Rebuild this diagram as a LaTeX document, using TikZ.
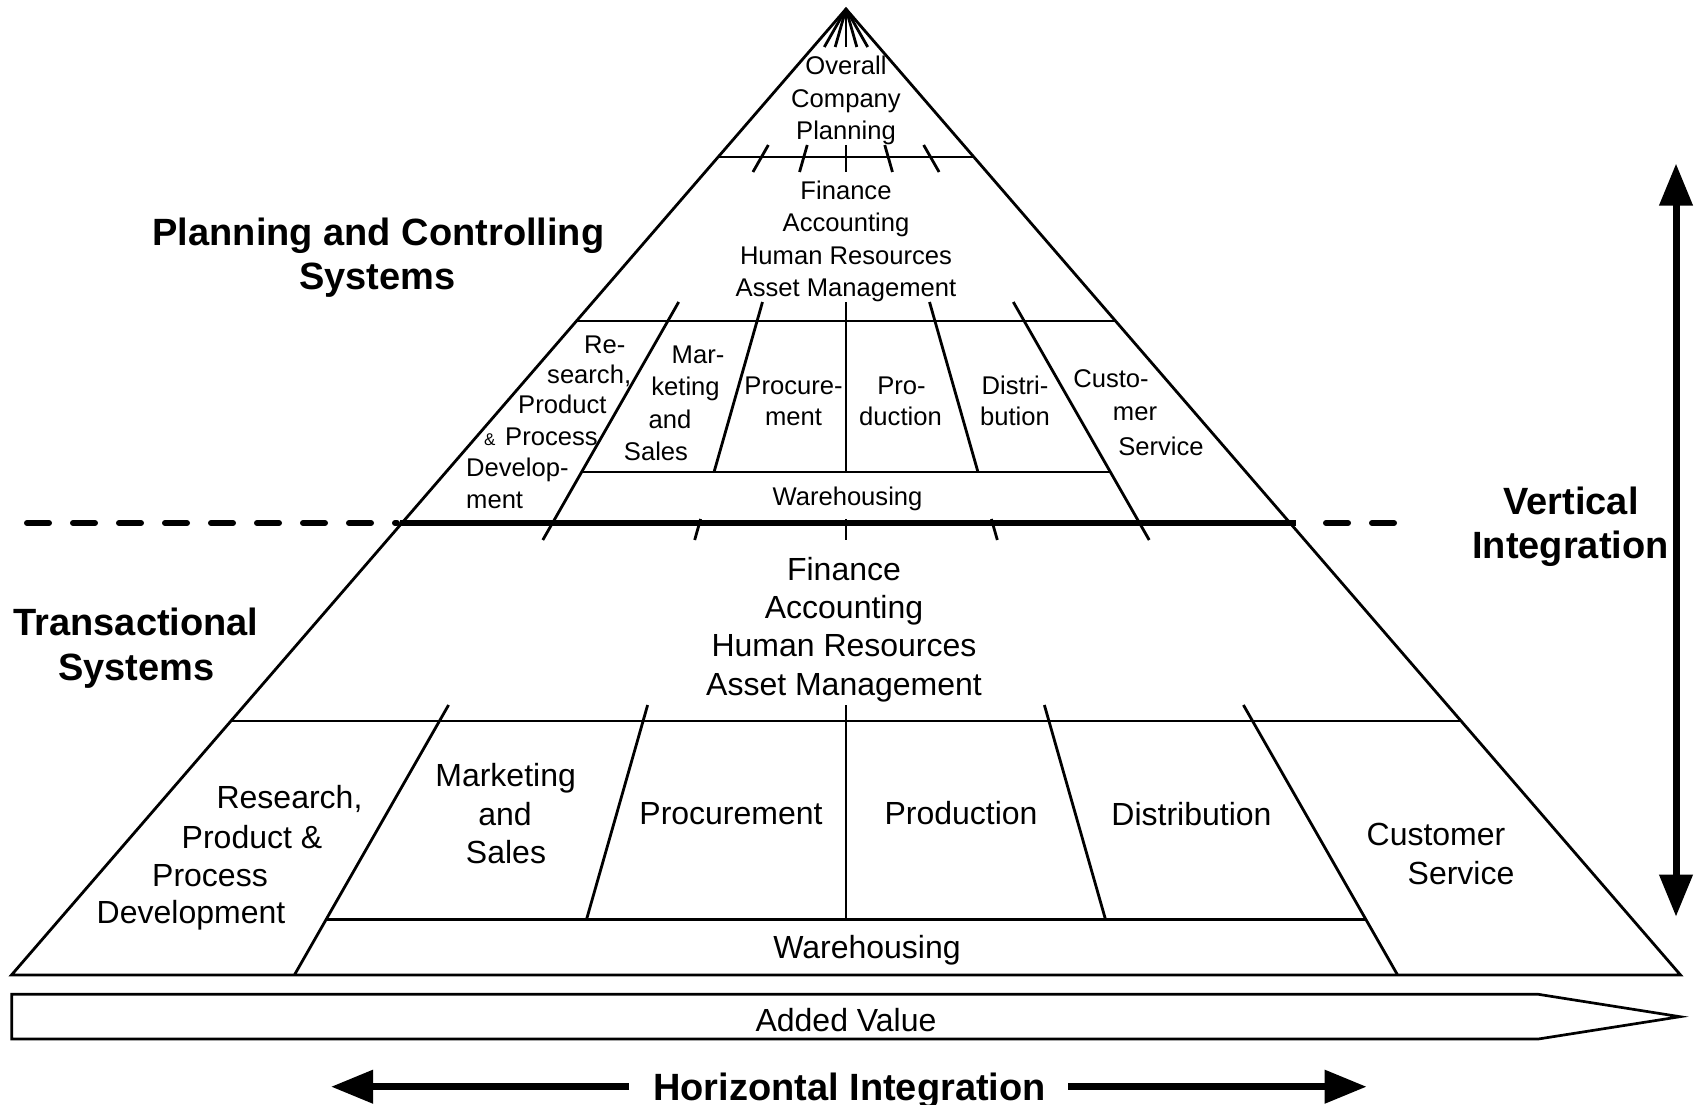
\documentclass[tikz,border=0pt]{standalone}
\usepackage{fontspec}
\setmainfont{Liberation Sans}
\usetikzlibrary{arrows.meta,calc}
\begin{document}
\begin{tikzpicture}[x=1pt,y=-1pt,
  ln/.style={line width=2.8pt},
  thick line/.style={line width=6pt},
  sm/.style={inner sep=0pt, anchor=base, font=\fontsize{25.6}{30}\selectfont},
  lg/.style={inner sep=0pt, anchor=base, font=\fontsize{32}{38}\selectfont},
  tt/.style={inner sep=0pt, anchor=base, font=\fontsize{38}{44}\selectfont\bfseries},
  bigarrow/.style={line width=7pt, -{Triangle[length=42pt,width=32pt]}}
]
\useasboundingbox (0,0) rectangle (1697,1105);

% ---------- pyramid outline ----------
\coordinate (apex) at (846,9);
\coordinate (bl) at (11.5,975);
\coordinate (br) at (1680.5,975);
\draw[ln, line join=miter] (bl) -- (apex) -- (br) -- cycle;

% ---------- horizontal tier lines ----------
\draw[ln] (718.1,157) -- (973.9,157);
\draw[ln] (576.5,321) -- (1115.5,321);
\draw[ln] (581.6,472) -- (1110.4,472);
\draw[thick line] (400,523) -- (1296,523);
\draw[ln] (230.9,721) -- (1461.1,721);
\draw[ln] (326.2,919.3) -- (1365.8,919.3);

% dashed separation line
\draw[thick line, line cap=round, dash pattern=on 22pt off 24pt] (27,523) -- (397,523);
\draw[thick line, line cap=round, dash pattern=on 22pt off 24pt] (1326,523) -- (1396,523);

% ---------- dividers (rays from the apex) ----------
\foreach \s in {-0.571,-0.285,0,0.285,0.571} {
  \draw[ln] (apex) -- ({846+\s*38},47);
  \draw[ln] ({846+\s*136},145) -- ({846+\s*163},172);
}
\foreach \s/\e in {-0.571/540,-0.285/472,0/472,0.285/472,0.571/540}
  \draw[ln] ({846+\s*293},302) -- ({846+\s*(\e-9)},\e);
\foreach \s in {-0.285,0,0.285}
  \draw[ln] ({846+\s*510},519) -- ({846+\s*531},540);
\foreach \s/\e in {-0.571/975,-0.285/919.3,0/919.3,0.285/919.3,0.571/975}
  \draw[ln] ({846+\s*696},705) -- ({846+\s*(\e-9)},\e);

% ---------- upper texts ----------
\node[sm] (ov1) at (846,75) {Overall};
\node[sm] (ov2) at (846,107.3) {Company};
\node[sm] (ov3) at (846,139.3) {Planning};

\node[sm] (uf1) at (846,199.3) {Finance};
\node[sm] (uf2) at (846,231.3) {Accounting};
\node[sm] (uf3) at (846,264) {Human Resources};
\node[sm] (uf4) at (846,296.3) {Asset Management};

\node[sm, anchor=base west] (ur1) at (584,353.3) {Re-};
\node[sm, anchor=base west] (ur2) at (547,383.3) {search,};
\node[sm, anchor=base west] (ur3) at (518,413.3) {Product};
\node[sm, anchor=base west, font=\fontsize{17}{17}\selectfont] (ur4a) at (484,445) {\&};
\node[sm, anchor=base west] (ur4) at (505,445) {Process};
\node[sm, anchor=base west] (ur5) at (466,476.7) {Develop-};
\node[sm, anchor=base west] (ur6) at (466,508.3) {ment};

\node[sm] (um1) at (698,363.3) {Mar-};
\node[sm] (um2) at (685.5,395) {keting};
\node[sm] (um3) at (670,428.3) {and};
\node[sm] (um4) at (656,460) {Sales};

\node[sm] (upr1) at (793.5,394.3) {Procure-};
\node[sm] (upr2) at (793.5,425) {ment};
\node[sm] (upd1) at (901.5,394.3) {Pro-};
\node[sm] (upd2) at (900.5,425) {duction};
\node[sm] (uds1) at (1015,394.3) {Distri-};
\node[sm] (uds2) at (1015,425) {bution};
\node[sm] (ucs1) at (1111,387.3) {Custo-};
\node[sm] (ucs2) at (1135,420.7) {mer};
\node[sm] (ucs3) at (1161,455.7) {Service};

\node[sm] (uwh) at (847.5,505) {Warehousing};

% ---------- lower texts ----------
\node[lg] (lf1) at (844,580) {Finance};
\node[lg] (lf2) at (844,618.3) {Accounting};
\node[lg] (lf3) at (844,656.7) {Human Resources};
\node[lg] (lf4) at (844,695) {Asset Management};

\node[lg] (lr1) at (289.5,808.3) {Research,};
\node[lg] (lr2) at (252,848.3) {Product \&};
\node[lg] (lr3) at (210,886) {Process};
\node[lg] (lr4) at (191,923) {Development};

\node[lg] (lm1) at (505.6,786.7) {Marketing};
\node[lg] (lm2) at (505,825) {and};
\node[lg] (lm3) at (506,863.3) {Sales};

\node[lg] (lpr) at (731,824) {Procurement};
\node[lg] (lpd) at (961,824) {Production};
\node[lg] (lds) at (1191.5,825) {Distribution};
\node[lg] (lcs1) at (1436,845) {Customer};
\node[lg] (lcs2) at (1461,884) {Service};

\node[lg] (lwh) at (867,958) {Warehousing};

% ---------- added value arrow ----------
\draw[line width=2.7pt, line join=miter] (11.7,994.3) -- (1538.3,994.3) -- (1680,1016.7) -- (1538.3,1039) -- (11.7,1039) -- cycle;
\node[lg] (av) at (846,1031) {Added Value};

% ---------- titles ----------
\node[tt] (pc1) at (378.5,245) {Planning and Controlling};
\node[tt] (pc2) at (377.5,289) {Systems};
\node[tt] (ts1) at (136,635) {Transactional};
\node[tt] (ts2) at (136.5,680) {Systems};
\node[tt] (vi1) at (1571,514) {Vertical};
\node[tt] (vi2) at (1570.5,558) {Integration};
\node[tt] (hi) at (849.5,1100) {Horizontal Integration};

% ---------- integration arrows ----------
\coordinate (vtop) at (1676,163.5);
\coordinate (vbot) at (1676,916.7);
\draw[line width=7pt, {Triangle[length=42pt,width=32pt]}-{Triangle[length=42pt,width=32pt]}] (vtop) -- (vbot);

\coordinate (hlA) at (629,1086.7);
\coordinate (hlB) at (331,1086.7);
\coordinate (hrA) at (1068,1086.7);
\coordinate (hrB) at (1366.7,1086.7);
\draw[bigarrow] (hlA) -- (hlB);
\draw[bigarrow] (hrA) -- (hrB);
\end{tikzpicture}
\end{document}
